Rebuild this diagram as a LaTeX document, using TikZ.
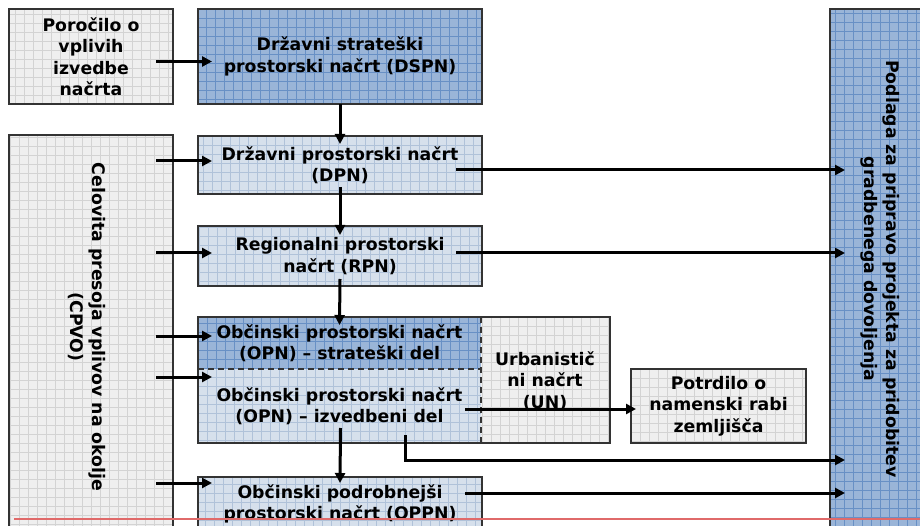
\documentclass[tikz,border=0pt]{standalone}
\usepackage{fontspec}
\setmainfont{DejaVu Sans}
\usetikzlibrary{calc,arrows.meta}
\definecolor{gfill}{HTML}{EFEFEF}
\definecolor{gline}{HTML}{D3D3D3}
\definecolor{dfill}{HTML}{9AB5D8}
\definecolor{dline}{HTML}{6890C5}
\definecolor{lfill}{HTML}{D6E0EC}
\definecolor{lline}{HTML}{B0C2D9}
\definecolor{bord}{HTML}{333333}
\definecolor{redl}{HTML}{E06A6A}
\tikzset{
  lbl/.style={font=\fontsize{17.3}{21.5}\selectfont\bfseries, align=center, text=black},
  box/.style={lbl, anchor=north west, inner sep=0pt, outer sep=0pt},
  bordered/.style={draw=bord, line width=1.6pt},
  gridded/.style={path picture={\draw[#1, line width=0.6pt, step=9pt] (path picture bounding box.south west) grid (path picture bounding box.north east);}},
  graybox/.style={box, fill=gfill, gridded=gline},
  darkbox/.style={box, fill=dfill, gridded=dline},
  lightbox/.style={box, fill=lfill, gridded=lline},
  arr/.style={draw=black, line width=3pt, -{Triangle[length=10pt,width=10pt]}},
  rotlbl/.style={lbl, rotate=-90, inner sep=0pt},
  divider/.style={draw=bord, line width=1.6pt, dash pattern=on 6pt off 4pt},
}
\begin{document}
\begin{tikzpicture}[x=1pt,y=-1pt]
\useasboundingbox (0,0) rectangle (920,526);
\clip (0,0) rectangle (920,526);
\fill[white] (0,0) rectangle (920,526);

% boxes
\node[graybox, bordered, minimum width=164pt, minimum height=95pt] (por) at (9,9) {Poročilo o\\vplivih\\izvedbe\\načrta};
\node[darkbox, bordered, minimum width=284pt, minimum height=95pt] (dspn) at (198,9) {Državni strateški\\prostorski načrt (DSPN)};
\node[darkbox, bordered, minimum width=100pt, minimum height=530pt] (right) at (830,9) {};
\node[graybox, bordered, minimum width=164pt, minimum height=400pt] (cpvo) at (9,135) {};
\node[lightbox, bordered, minimum width=284pt, minimum height=58pt] (dpn) at (198,136) {Državni prostorski načrt\\(DPN)};
\node[lightbox, bordered, minimum width=284pt, minimum height=60pt] (rpn) at (198,226) {Regionalni prostorski\\načrt (RPN)};
\node[darkbox, minimum width=283pt, minimum height=52pt] (opns) at (198,317) {Občinski prostorski načrt\\(OPN) – strateški del};
\node[lightbox, minimum width=283pt, minimum height=74pt] (opni) at (198,369) {Občinski prostorski načrt\\(OPN) – izvedbeni del};
\node[graybox, minimum width=129pt, minimum height=126pt] (un) at (481,317) {};
\node[lbl] (untext) at (545,381) {Urbanistič\\ni načrt\\(UN)};
\node[graybox, bordered, minimum width=175pt, minimum height=74pt] (pot) at (631,369) {Potrdilo o\\namenski rabi\\zemljišča};
\node[lightbox, bordered, minimum width=284pt, minimum height=54pt] (oppn) at (198,477) {Občinski podrobnejši\\prostorski načrt (OPPN)};

% OPN/UN group outline and dashed dividers
\draw[bordered] (opns.north west) rectangle (un.south east);
\draw[divider] (opns.south west) -- (opns.south east);
\draw[divider] (opns.north east) -- (opni.south east);

% rotated labels
\node[rotlbl] (rtext) at (880,269) {Podlaga za pripravo projekta za pridobitev\\gradbenega dovoljenja};
\node[rotlbl] (ctext) at (87,327) {Celovita presoja vplivov na okolje\\(CPVO)};

% arrows
\draw[arr] ($(por.east)+(-17,5)$) -- ($(dspn.west)+(14,5)$);
\draw[arr] (dspn.south) -- ($(dpn.north)+(0,8)$);
\draw[arr] ($(dpn.south)+(0,-7)$) -- ($(rpn.north)+(0,9)$);
\draw[arr] ($(rpn.south)+(0,-7)$) -- ($(opns.north)+(0,8)$);
\draw[arr] ($(opni.south)+(1,-15)$) -- ($(oppn.north)+(0,6)$);

\draw[arr] ($(cpvo.east |- dpn.west)+(-17,-4)$) -- ($(dpn.west)+(14,-4)$);
\draw[arr] ($(cpvo.east |- rpn.west)+(-17,-3)$) -- ($(rpn.west)+(14,-3)$);
\draw[arr] ($(cpvo.east |- opns.west)+(-17,-7)$) -- ($(opns.west)+(14,-7)$);
\draw[arr] ($(cpvo.east |- opni.north west)+(-17,8)$) -- ($(opni.north west)+(14,8)$);
\draw[arr] ($(cpvo.east |- oppn.north west)+(-17,6)$) -- ($(oppn.north west)+(14,6)$);

\draw[arr] ($(dpn.east)+(-26,5)$) -- ($(right.west |- dpn.east)+(15,5)$);
\draw[arr] ($(rpn.east)+(-26,-3)$) -- ($(right.west |- rpn.east)+(15,-3)$);
\draw[arr] ($(opni.east)+(-16,3)$) -- ($(pot.west)+(5,3)$);
\coordinate (e4) at ($(right.north west)+(15,451)$);
\draw[arr] ($(opni.south west)+(207,-8)$) |- (e4);
\draw[arr] ($(oppn.north east)+(-17,16)$) -- ($(right.west |- oppn.north east)+(15,16)$);

% red guide line
\draw[redl, line width=1.5pt] (14,519) -- (920,519);
\end{tikzpicture}
\end{document}
